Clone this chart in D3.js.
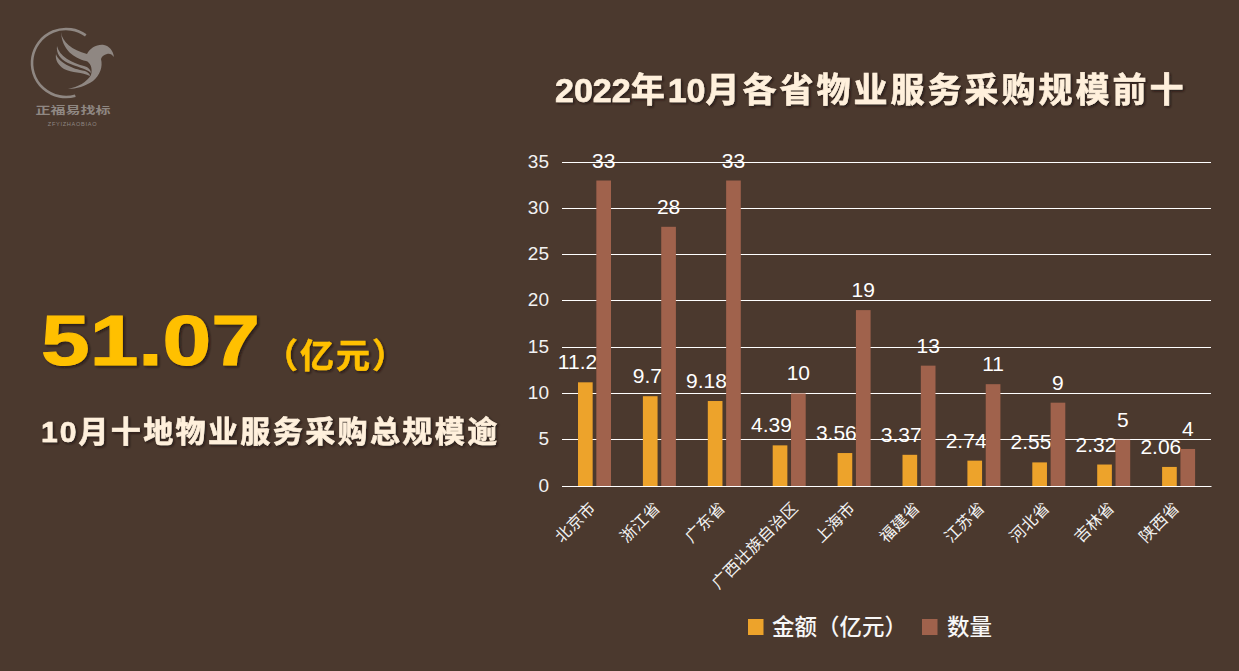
<!DOCTYPE html>
<html><head><meta charset="utf-8">
<script src="https://cdn.jsdelivr.net/npm/d3@7/dist/d3.min.js"></script>
<style>
html,body{margin:0;padding:0;background:#4b392e;overflow:hidden}
svg{display:block}
text{font-family:"Liberation Sans","Noto Sans CJK SC",sans-serif}
</style></head><body>
<svg id="c" width="1239" height="671"></svg>
<script>
const categories=["北京市","浙江省","广东省","广西壮族自治区","上海市","福建省","江苏省","河北省","吉林省","陕西省"];
const amounts=[11.2,9.7,9.18,4.39,3.56,3.37,2.74,2.55,2.32,2.06];
const counts=[33,28,33,10,19,13,11,9,5,4];
const yTicks=[0,5,10,15,20,25,30,35];
const seriesNames=["金额（亿元）","数量"];
const titleParts=["2022","年","10","月各省物业服务采购规模前十"];
const bigNumber="51.07";
const bigUnit="（亿元）";
const subParts=["10","月十地物业服务采购总规模逾"];
const logoCn="正福易找标";
const logoEn="ZFYIZHAOBIAO";

const BG="#4b392e",ORANGE="#eda32b",BROWN="#a0624c",CREAM="#fff0dc",GOLD="#ffc000",LOGO="#8f8782";
const svg=d3.select("#c");
svg.append("rect").attr("width",1239).attr("height",671).attr("fill",BG);

const defs=svg.append("defs");
const f=defs.append("filter").attr("id","sh").attr("x","-5%").attr("y","-20%").attr("width","110%").attr("height","140%");
f.append("feDropShadow").attr("dx",1.5).attr("dy",1.5).attr("stdDeviation",1).attr("flood-color","#1e140e").attr("flood-opacity",.75);

// Logo
const logo=svg.append("g").attr("fill",LOGO);
logo.append("path").attr("fill","none").attr("stroke",LOGO).attr("stroke-width",2.6)
 .attr("d",d3.arc()({innerRadius:34,outerRadius:34,startAngle:0.62,endAngle:-3.42})).attr("transform","translate(66,63)");
logo.append("path").attr("d","M61 32C62 42 72 50 87 54C90 48 97 44 104 45C109 46 113 50 114 57C112 54 109 53 107 54C104 55 102 56 101 59C103 67 100 75 93 81C86 86 76 89 68 89C78 87 87 82 91 75C93 68 90 62 86 61C74 58 62 50 61 32Z");
logo.append("path").attr("d","M57 46C59 56 72 63 84 66C88 67 91 70 91 73C86 68 76 67 68 63C60 59 56 53 57 46Z");
logo.append("path").attr("d","M56 54C58 62 72 69 85 71C88 72 90 74 90 76C82 72 72 73 64 69C58 65 55 60 56 54Z");
logo.append("text").attr("transform","translate(73,114) scale(1.5,1)").attr("text-anchor","middle").attr("font-size",10).style("font-family","'Noto Sans CJK SC'").attr("font-weight",700).text(logoCn);
logo.append("text").attr("x",72.5).attr("y",126).attr("text-anchor","middle").attr("font-size",5.6).attr("letter-spacing",.7).text(logoEn);

// Left texts
const boldText=(fill,sw)=>s=>s.attr("font-weight",700).attr("fill",fill).attr("stroke",fill).attr("stroke-width",sw).attr("filter","url(#sh)");
svg.append("text").attr("transform","translate(41,365) scale(1.25,1)").attr("font-size",70).call(boldText(GOLD,1)).text(bigNumber);
svg.append("text").attr("x",264).attr("y",368).attr("font-size",34).attr("letter-spacing",2).call(boldText(GOLD,.5)).text(bigUnit);

function spaced(sel,parts,digitSpacing,cjkSpacing){
  parts.forEach(p=>sel.append("tspan").attr("letter-spacing",/^\d/.test(p)?digitSpacing:cjkSpacing).text(p));
}
const sub=svg.append("text").attr("x",41).attr("y",442).attr("font-size",30).call(boldText(CREAM,.6));
spaced(sub,subParts,2,2.4);
const title=svg.append("text").attr("x",555).attr("y",102).attr("font-size",34).call(boldText(CREAM,.6));
spaced(title,titleParts,0,3);

// Chart
const x=d3.scaleBand().domain(categories).range([562,1211]);
const inner=d3.scaleBand().domain(seriesNames).range([16,49]).paddingInner(.2);
const y=d3.scaleLinear().domain([0,35]).range([486,162]);

const gy=svg.append("g").attr("transform","translate(562,0)")
 .call(d3.axisLeft(y).tickValues(yTicks).tickSize(-649).tickPadding(13));
gy.select(".domain").remove();
gy.selectAll(".tick").attr("transform",d=>`translate(0,${Math.floor(y(d))+.5})`);
gy.selectAll(".tick line").attr("stroke","#fff").attr("stroke-width",1);
gy.selectAll(".tick text").attr("fill","#f2f2f2").attr("font-size",19).attr("y",-1).style("font-family","'Liberation Sans'");

const gx=svg.append("g").attr("transform","translate(0,486)")
 .call(d3.axisBottom(x).tickSize(0).tickPadding(0));
gx.select(".domain").attr("stroke","#fff").attr("stroke-width",1);
gx.selectAll(".tick text").attr("fill","#f2f2f2").attr("font-size",16).attr("letter-spacing",.3)
 .attr("text-anchor","end").attr("dy",0).attr("y",0)
 .attr("transform",d=>`translate(${2+(d.length-3)*2},23) rotate(-45)`)
 .style("font-family","'Noto Sans CJK SC'");

const series=[{n:seriesNames[0],v:amounts,c:ORANGE},{n:seriesNames[1],v:counts,c:BROWN}];
series.forEach((s,si)=>{
  const g=svg.append("g");
  g.selectAll("rect").data(s.v).join("rect")
   .attr("x",(d,i)=>x(categories[i])+inner(s.n))
   .attr("width",inner.bandwidth())
   .attr("y",d=>y(d)).attr("height",d=>y(0)-y(d)).attr("fill",s.c);
  g.selectAll("text").data(s.v).join("text")
   .attr("x",(d,i)=>x(categories[i])+inner(s.n)+(si===0?inner.bandwidth()+4.5:inner.bandwidth()/2))
   .attr("y",d=>y(d)-13).attr("text-anchor",si===0?"end":"middle")
   .attr("fill","#fff").attr("font-size",21).text(d=>d);
});

// Legend
const lg=svg.append("g");
[[748,772],[922,947]].forEach((p,i)=>{
  lg.append("rect").attr("x",p[0]).attr("y",619).attr("width",15.5).attr("height",16).attr("fill",series[i].c);
  lg.append("text").attr("x",p[1]).attr("y",635).attr("font-size",22.5).attr("font-weight",500).attr("fill","#f7f7f7").style("font-family","'Noto Sans CJK SC'").text(series[i].n);
});
</script></body></html>
